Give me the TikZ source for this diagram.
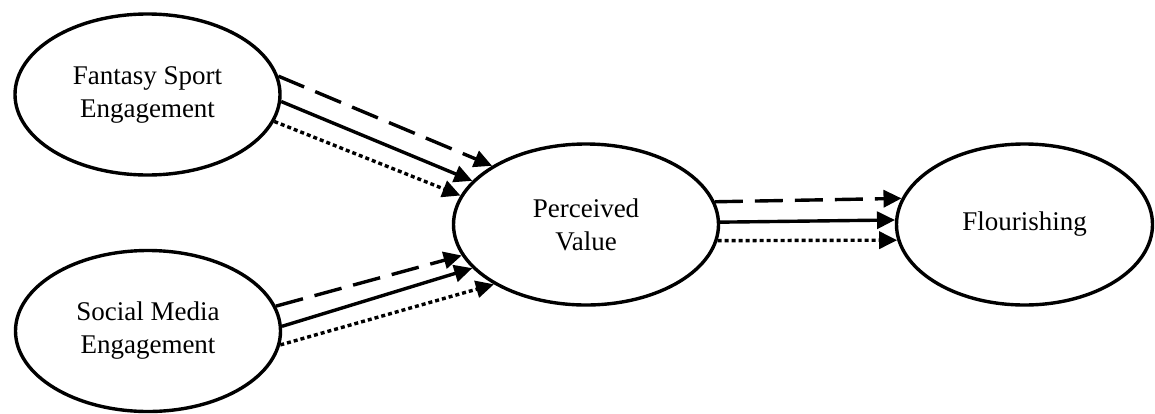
\documentclass[tikz,border=0pt]{standalone}
\usepackage{fontspec}
\setmainfont{Liberation Serif}
\usetikzlibrary{arrows.meta,shapes.geometric}
\begin{document}
\begin{tikzpicture}[x=1pt,y=-1pt,
  construct/.style={draw,ellipse,line width=3.4pt,inner sep=0pt,
    minimum width=265pt,minimum height=161pt,align=center,
    font=\fontsize{27}{33}\selectfont},
  link/.style={line width=3.4pt,-{Triangle[length=18pt,width=17pt]}},
  dashedlink/.style={link,dash pattern=on 28pt off 12pt},
  dottedlink/.style={link,dash pattern=on 4pt off 3pt},
]
\useasboundingbox (0,0) rectangle (1155,413);

% constructs
\node[construct] (fse) at (147.5,94.5) {Fantasy Sport\\Engagement};
\node[construct] (sme) at (148,331) {Social Media\\Engagement};
\node[construct] (pv)  at (586,224.5) {Perceived\\Value};
\node[construct,minimum width=256pt] (fl) at (1024.5,224.5) {Flourishing};

% Fantasy Sport Engagement -> Perceived Value
\draw[dashedlink] (fse.8.4)  -- (pv.148.9);
\draw[link]       (fse.-3.2) -- (pv.159.2);
\draw[dottedlink] (fse.-12)  -- (pv.167.5);

% Social Media Engagement -> Perceived Value
\draw[dashedlink] (sme.11)   -- (pv.194.3);
\draw[link]       (sme.2.6)  -- (pv.201.7);
\draw[dottedlink] (sme.-6.8) -- (pv.213.7);

% Perceived Value -> Flourishing
\draw[dashedlink] (pv.10.99) -- (fl.168.64);
\draw[link]       (pv.1.51)  -- (fl.178.43);
\draw[dottedlink] (pv.-7.71) -- (fl.187.98);
\end{tikzpicture}
\end{document}
